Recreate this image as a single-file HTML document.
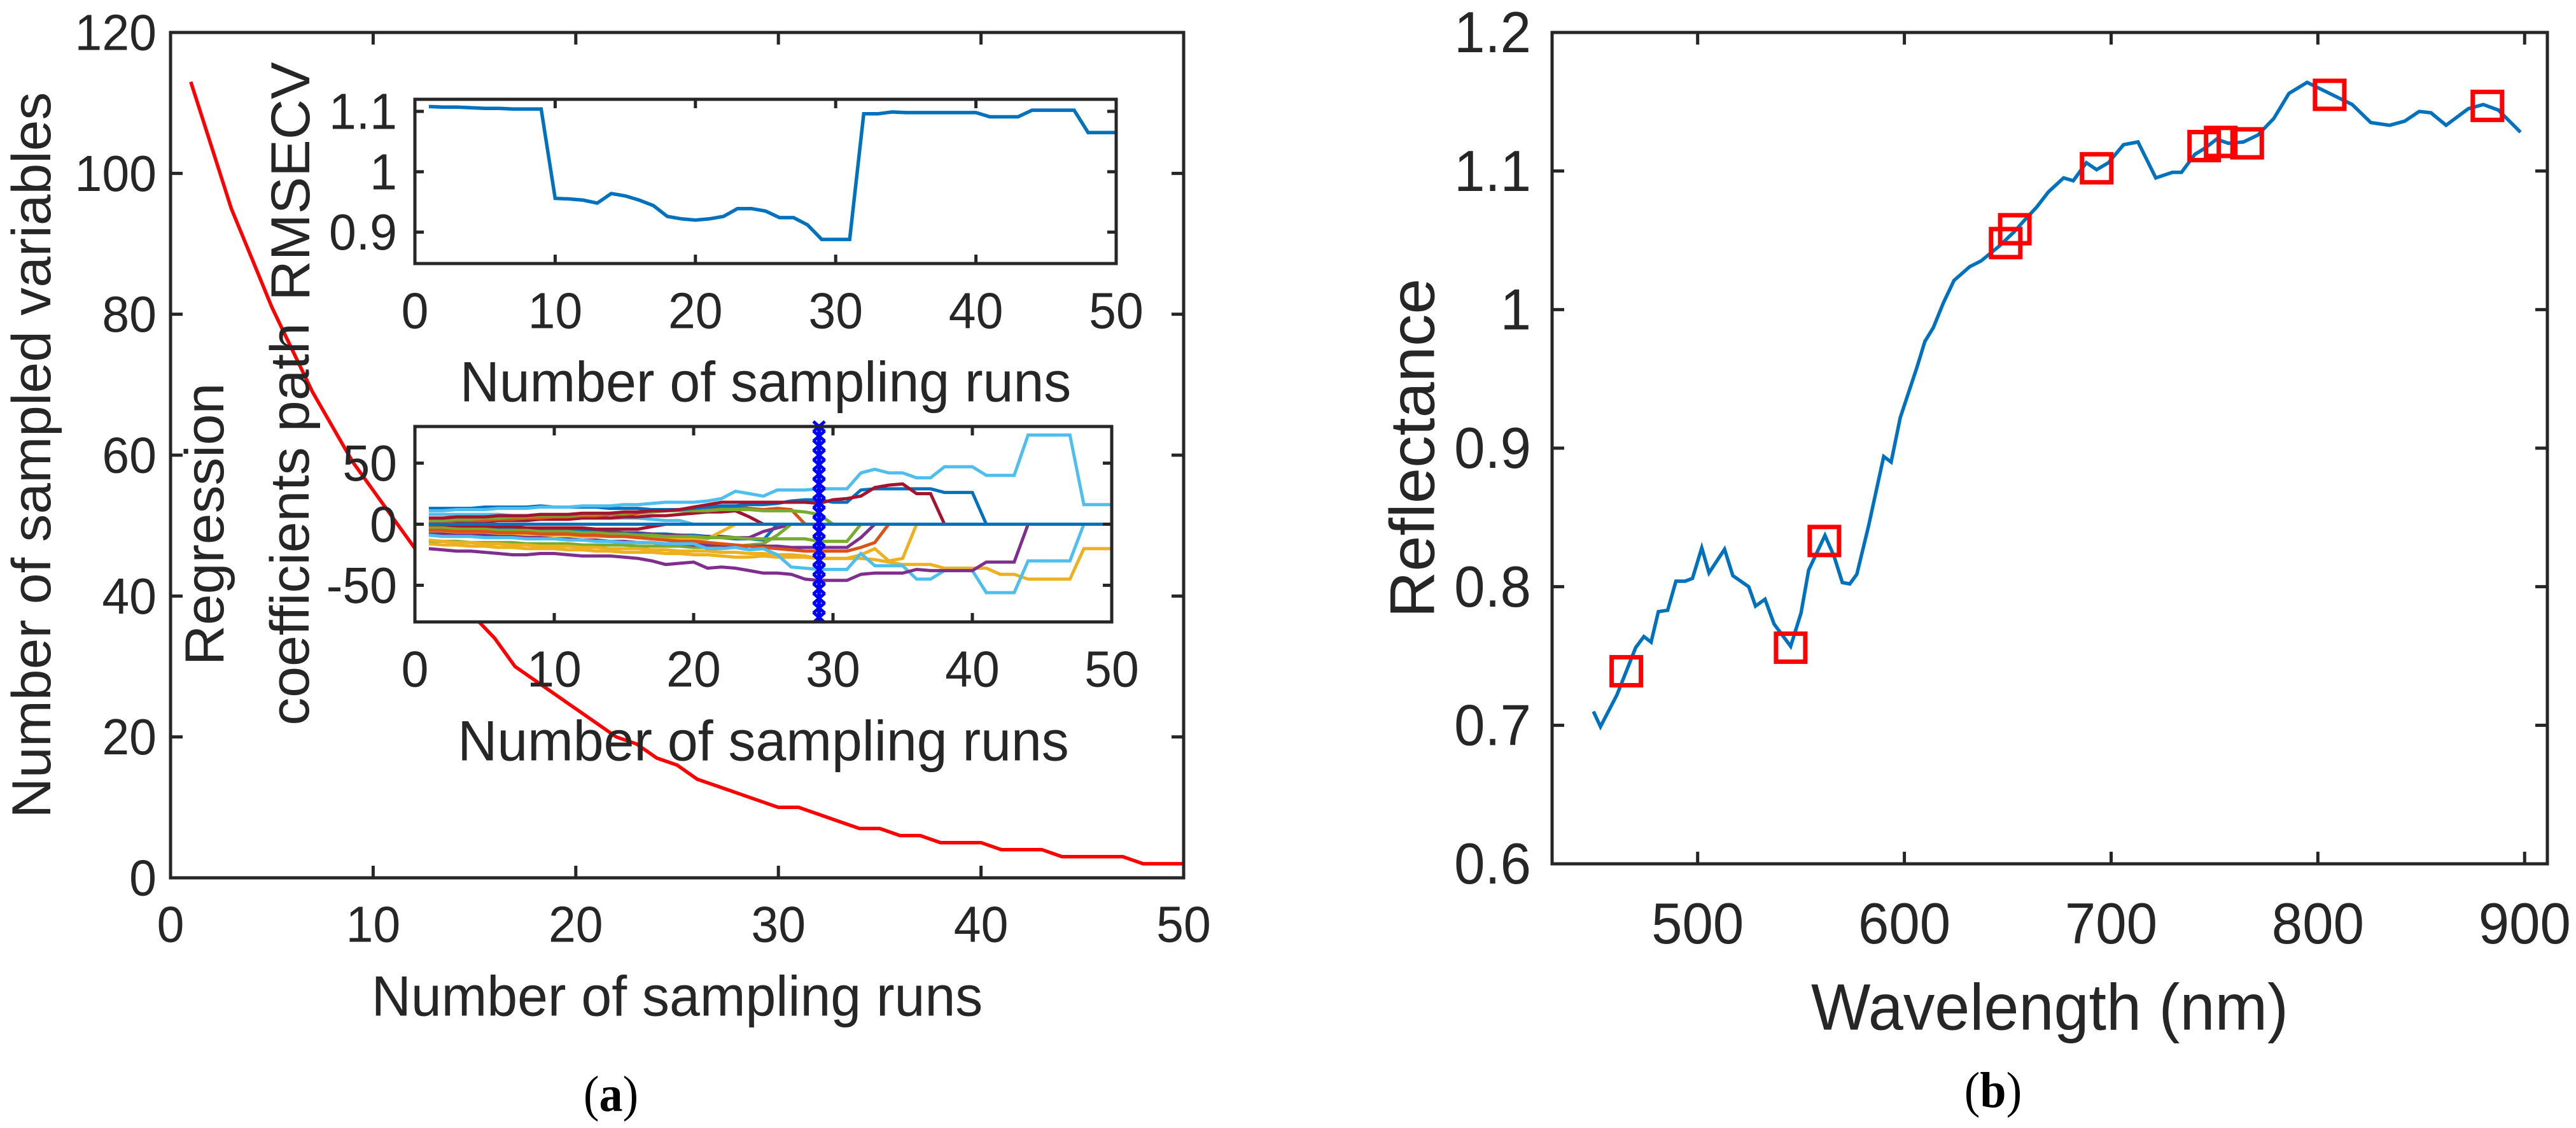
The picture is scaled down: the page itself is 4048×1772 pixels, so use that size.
<!DOCTYPE html>
<html><head><meta charset="utf-8">
<style>
html,body{margin:0;padding:0;background:#fff;}
svg{display:block;font-family:"Liberation Sans",Arial,sans-serif;}
</style></head>
<body>
<svg id="fig" width="4048" height="1772" viewBox="0 0 4048 1772" xmlns="http://www.w3.org/2000/svg"></svg>
<script>
// ---------- data ----------
const runs = [1,2,3,4,5,6,7,8,9,10,11,12,13,14,15,16,17,18,19,20,21,22,23,24,25,26,27,28,29,30,31,32,33,34,35,36,37,38,39,40,41,42,43,44,45,46,47,48,49,50];
const sampledVars = [113,104,95,88,81,75,69,64,59,55,51,47,43,40,37,34,30,28,26,24,22,20,19,17,16,14,13,12,11,10,10,9,8,7,7,6,6,5,5,5,4,4,4,3,3,3,3,2,2,2];
const rmsecv = [1.108,1.107,1.107,1.106,1.105,1.105,1.104,1.104,1.104,0.956,0.955,0.953,0.948,0.964,0.960,0.953,0.944,0.926,0.922,0.920,0.922,0.926,0.939,0.939,0.935,0.924,0.924,0.912,0.888,0.888,0.888,1.096,1.096,1.099,1.098,1.098,1.098,1.098,1.098,1.098,1.091,1.091,1.091,1.102,1.102,1.102,1.102,1.065,1.065,1.065];
const optimalRun = 29;
// coefficient paths (values after the listed runs are 0 = eliminated)
const pathA = [11,11,12,12,12,13,13,13,14,14,14,15,15,15,16,16,17,18,18,18,19,21,27,25,23,28,28,28,29,29,29,42,45,42,42,38,38,47,47,47,40,40,40,73,73,73,73,16,16,16];
const pathB = [5,5,6,6,6,7,7,7,8,8,8,9,9,9,10,10,11,11,12,14,16,18,18,18,18,18,18,18,17,20,21,23,30,32,33,25,25,0];
const pathC = [13,13,13,13,14,14,14,14,15,14,14,14,14,13,13,13,12,12,12,13,14,15,15,16,16,17,19,20,20,18,18,28,29,29,29,29,29,26,26,26,0];
const pathD = [-20,-21,-22,-22,-23,-24,-25,-25,-24,-24,-25,-26,-26,-26,-27,-28,-30,-33,-32,-31,-36,-35,-36,-38,-40,-40,-41,-45,-46,-46,-46,-41,-40,-40,-40,-37,-38,-38,-38,-38,-31,-31,-31,0];
const pathE = [-9,-10,-10,-10,-11,-11,-11,-12,-12,-12,-13,-13,-14,-14,-15,-15,-15,-16,-16,-16,-20,-20,-19,-21,-20,-25,-35,-36,-37,-37,-37,-24,-34,-34,-34,-45,-45,-38,-38,-38,-56,-56,-56,-30,-30,-30,-30,0];
const pathF = [-13,-14,-15,-15,-16,-16,-17,-17,-18,-18,-18,-19,-19,-20,-20,-20,-21,-21,-22,-22,-22,-23,-23,-24,-24,-25,-25,-26,-28,-28,-28,-25,-20,-30,-28,0];
const pathG = [-16,-17,-17,-18,-18,-19,-19,-20,-20,-20,-21,-21,-22,-22,-23,-23,-23,-24,-24,-25,-25,-26,-27,-27,-26,-27,-27,-27,-28,-28,-28,-28,-29,-31,-33,-33,-33,-36,-36,-36,-36,-41,-41,-45,-45,-45,-45,-20,-20,-20];
const pathH = [-5,-5,-6,-6,-6,-7,-7,-7,-8,-8,-8,-9,-9,-10,-10,-11,-12,-13,-14,-14,-15,-16,-17,-18,-19,-20,-21,-22,-22,-22,-22,-19,-15,0];
const pathI = [-8,-8,-9,-9,-9,-10,-10,-11,-11,-12,-12,-13,-13,-14,-14,-15,-15,-16,-16,-17,-17,-17,-18,-18,-18,-18,-19,-19,-19,-19,-19,-11,0];
const pathJ = [-3,-3,-4,-4,-4,-5,-5,-5,-6,-6,-6,-7,-7,-8,-8,-9,-9,-10,-10,-10,-11,-11,-11,-12,-12,-12,-12,-12,-14,-14,-14,0];
const pathK = [3,3,4,4,5,5,6,6,7,7,7,8,8,9,9,10,10,11,11,11,11,12,12,12,11,11,11,10,8,0];
const pathL = [8,8,8,8,8,8,7,7,7,7,6,6,6,5,5,5,4,3,3,0];
const pathM = [1,1,2,2,2,3,3,3,4,4,4,5,5,5,6,6,7,7,8,9,10,10,11,6,0];
const pathN = [2,2,3,3,3,4,4,5,5,6,6,7,7,8,8,9,10,11,12,13,13,14,14,13,12,13,12,0];
const pathO = [-2,-2,-2,-3,-3,-3,-4,-4,-4,-5,-5,-5,-6,-6,-7,-7,-8,-8,-9,-9,-10,-11,-12,-12,-13,0];
const pathP = [-4,-4,-4,-5,-5,-5,-5,-6,-6,-6,-6,-7,-7,-7,-8,-8,-8,-9,-9,-10,-10,-10,-11,-11,-6,-3,0];
const pathQ = [-14,-14,-14,-15,-15,-15,-15,-16,-16,-16,-16,-17,-17,-17,-17,-18,-18,-18,-18,-19,-19,-19,-18,-17,-16,-9,0];
const pathR = [-7,-7,-7,-8,-8,-8,-8,-9,-9,-9,-9,-10,-10,-10,-10,-11,-11,-12,-12,-12,-12,-6,0];
const pathS = [-1,-1,-1,-2,-2,-2,-2,-3,-3,-3,-3,-3,-4,-4,-4,-4,-2,0];
const pathZero = [0,0,0,0,0,0,0,0,0,0,0,0,0,0,0,0,0,0,0,0,0,0,0,0,0,0,0,0,0,0,0,0,0,0,0,0,0,0,0,0,0,0,0,0,0,0,0,0,0,0];
// spectrum
const wavelengths = [449.6,453,461,470,474,477.5,481,485.5,489.5,494,497.5,502,505.5,513,517,524.7,528,532.6,537,545,550,553.7,561.6,566,570,573.6,577,582.7,590,593.6,598,606,609.9,614,618.9,624,631.6,637,646,653,659,664,669.7,677,681.7,688,693,698.7,706,713,721.6,729.6,734,740.5,745.9,751,756.7,764,771,778.7,786,794.8,805.7,816.6,825.6,834.7,842,849,854.7,862,872.8,880,887.3,898];
const reflectance = [0.710,0.699,0.722,0.756,0.764,0.760,0.782,0.783,0.804,0.804,0.806,0.828,0.810,0.827,0.808,0.800,0.786,0.791,0.773,0.757,0.781,0.812,0.837,0.822,0.803,0.802,0.809,0.844,0.894,0.890,0.922,0.958,0.977,0.987,1.005,1.021,1.031,1.035,1.046,1.056,1.066,1.074,1.085,1.095,1.093,1.106,1.101,1.106,1.119,1.121,1.095,1.099,1.099,1.112,1.117,1.123,1.120,1.121,1.126,1.138,1.156,1.164,1.156,1.148,1.135,1.133,1.136,1.143,1.142,1.133,1.145,1.148,1.144,1.128];
const selectedWl = [465.5,545,561.3,649,653.4,693,745,753,765.8,805.7,882];
const selectedRefl = [0.739,0.756,0.833,1.048,1.058,1.102,1.118,1.121,1.120,1.155,1.147];
// ticks
const mainXTicks = [0,10,20,30,40,50];
const mainYTicks = [0,20,40,60,80,100,120];
const rmseYTicks = [0.9,1,1.1];
const rmseYTickLabels = ["0.9","1","1.1"];
const coefYTicks = [-50,0,50];
const bXTicks = [500,600,700,800,900];
const bYTicks = [0.6,0.7,0.8,0.9,1,1.1,1.2];
const bYTickLabels = ["0.6","0.7","0.8","0.9","1","1.1","1.2"];

// ---------- helpers ----------
const NS = "http://www.w3.org/2000/svg";
const svg = document.getElementById("fig");
const AX = "#262626";
const STRETCH = 1.04;
function mk(tag, attrs, parent){
  const e = document.createElementNS(NS, tag);
  for (const k in attrs) e.setAttribute(k, attrs[k]);
  (parent||svg).appendChild(e);
  return e;
}
function txt(s, x, y, size, anchor, parent, rot){
  const t = mk("text", {x:0, y:0, "font-size":size, "text-anchor":anchor||"middle", "dominant-baseline":"central", fill:AX}, parent);
  t.setAttribute("transform", "translate("+x+" "+y+")" + (rot ? " rotate(-90) scale(1.02 1)" : " scale(1 "+STRETCH+")"));
  t.textContent = s;
  return t;
}
function scale(d0,d1,p0,p1){ return v => p0 + (v-d0)/(d1-d0)*(p1-p0); }
function drawBox(L,T,R,B,g){
  const r = mk("rect", {x:L, y:T, width:R-L, height:B-T, fill:"none", stroke:AX, "stroke-width":5}, g);
  
  
}
function xTicks(ticks, sx, T, B, len, g, labY, size, labels){
  ticks.forEach((v,i)=>{
    const x = sx(v);
    mk("line",{x1:x,y1:B,x2:x,y2:B-len,stroke:AX,"stroke-width":5},g);
    mk("line",{x1:x,y1:T,x2:x,y2:T+len,stroke:AX,"stroke-width":5},g);
    const t = txt(labels?labels[i]:String(v), x, labY, size, "middle", g);
    
    
  });
}
function yTicks(ticks, sy, L, R, len, g, labX, size, labels){
  ticks.forEach((v,i)=>{
    const y = sy(v);
    mk("line",{x1:L,y1:y,x2:L+len,y2:y,stroke:AX,"stroke-width":5},g);
    mk("line",{x1:R,y1:y,x2:R-len,y2:y,stroke:AX,"stroke-width":5},g);
    const t = txt(labels?labels[i]:String(v), labX, y, size, "end", g);
    
    
  });
}
function polyline(xs, ys, sx, sy, color, w, g){
  const pts = xs.map((x,i)=>sx(x).toFixed(1)+","+sy(ys[i]).toFixed(1)).join(" ");
  return mk("polyline",{points:pts, fill:"none", stroke:color, "stroke-width":w, "stroke-linejoin":"miter"}, g);
}

// ---------- Panel (a) main ----------
const gA = mk("g", {});


const aL=268, aR=1860, aT=51, aB=1379;
const ax = scale(0,50,aL,aR), ay = scale(0,120,aB,aT);
const redLine = polyline(runs, sampledVars, ax, ay, "#ff0000", 5.5, gA);


drawBox(aL,aT,aR,aB,gA);
xTicks(mainXTicks, ax, aT, aB, 19, gA, 1452, 77);
yTicks(mainYTicks, ay, aL, aR, 19, gA, 246, 77);
const aXT = txt("Number of sampling runs", (aL+aR)/2, 1565, 86, "middle", gA);


const aYT = txt("Number of sampled variables", 50, (aT+aB)/2, 86, "middle", gA, true);



// ---------- Inset 1: RMSECV ----------
const gI1 = mk("g", {});


const i1L=652, i1R=1754, i1T=156, i1B=414;
mk("rect",{x:i1L,y:i1T,width:i1R-i1L,height:i1B-i1T,fill:"#fff"},gI1);
const i1x = scale(0,50,i1L,i1R), i1y = scale(0.848,1.12,i1B,i1T);
const rl = polyline(runs, rmsecv, i1x, i1y, "#0072BD", 5.5, gI1);


drawBox(i1L,i1T,i1R,i1B,gI1);
xTicks(mainXTicks, i1x, i1T, i1B, 14, gI1, 488, 77);
yTicks(rmseYTicks, i1y, i1L, i1R, 14, gI1, 624, 77, rmseYTickLabels);
const i1XT = txt("Number of sampling runs", (i1L+i1R)/2, 600, 86, "middle", gI1);


const i1YT = txt("RMSECV", 457, (i1T+i1B)/2, 86, "middle", gI1, true);



// ---------- Inset 2: coefficient paths ----------
const gI2 = mk("g", {});


const i2L=652, i2R=1747, i2T=670, i2B=977;
mk("rect",{x:i2L,y:i2T,width:i2R-i2L,height:i2B-i2T,fill:"#fff"},gI2);
const i2x = scale(0,50,i2L,i2R), i2y = scale(-80,80,i2B,i2T);
const paths = [pathL,pathM,pathN,pathO,pathP,pathQ,pathR,pathS,pathK,pathJ,pathI,pathH,pathF,pathG,pathE,pathD,pathC,pathB,pathA,pathZero];
const pathColors = ["#4DBEEE","#A2142F","#D95319","#0072BD","#7E2F8E","#77AC30","#EDB120","#A2142F","#77AC30","#77AC30","#7E2F8E","#D95319","#EDB120","#EDB120","#4DBEEE","#7E2F8E","#0072BD","#A2142F","#4DBEEE","#0072BD"];
paths.forEach((p,k)=>{
  const vals = runs.map((r,i)=> i<p.length ? p[i] : 0);
  const pl = polyline(runs, vals, i2x, i2y, pathColors[k], 5, gI2);
  
  
});
// optimal run marker line
const gM = mk("g",{},gI2);


const mx = i2x(optimalRun);
mk("line",{x1:mx,y1:i2T,x2:mx,y2:i2B,stroke:"#0000ff","stroke-width":6},gM);
for (let y=i2T; y<=i2B; y+=15){
  mk("path",{d:`M${mx-9},${y-8}L${mx+9},${y+8}M${mx-9},${y+8}L${mx+9},${y-8}`,stroke:"#0000ff","stroke-width":5,fill:"none"},gM);
}
drawBox(i2L,i2T,i2R,i2B,gI2);
xTicks(mainXTicks, i2x, i2T, i2B, 14, gI2, 1051, 77);
yTicks(coefYTicks, i2y, i2L, i2R, 14, gI2, 624, 77);
const i2XT = txt("Number of sampling runs", (i2L+i2R)/2, 1164, 86, "middle", gI2);


const i2YT1 = txt("Regression", 322, (i2T+i2B)/2, 86, "middle", gI2, true);


const i2YT2 = txt("coefficients path", 456, (i2T+i2B)/2, 86, "middle", gI2, true);



const capA = mk("text",{x:0,y:0,"font-size":74,"text-anchor":"middle","dominant-baseline":"central","font-family":"Liberation Serif, serif",fill:"#000",transform:"translate(960 1718) scale(1 1.08)"});


capA.innerHTML = '(<tspan font-weight="bold">a</tspan>)';

// ---------- Panel (b) ----------
const gB = mk("g", {});


const bL=2439, bR=4003, bT=51, bB=1357;
const bx = scale(429.6,911,bL,bR), by = scale(0.6,1.2,bB,bT);
const spec = polyline(wavelengths, reflectance, bx, by, "#0072BD", 5.5, gB);


selectedWl.forEach((w,i)=>{
  const s = mk("rect",{x:bx(w)-23,y:by(selectedRefl[i])-22,width:46,height:44,fill:"none",stroke:"#ff0000","stroke-width":7},gB);
  
  
});
drawBox(bL,bT,bR,bB,gB);
xTicks(bXTicks, bx, bT, bB, 19, gB, 1451, 87);
yTicks(bYTicks, by, bL, bR, 19, gB, 2406, 87, bYTickLabels);
const bXT = txt("Wavelength (nm)", (bL+bR)/2, 1583, 99, "middle", gB);


const bYT = txt("Reflectance", 2220, (bT+bB)/2, 99, "middle", gB, true);


const capB = mk("text",{x:0,y:0,"font-size":74,"text-anchor":"middle","dominant-baseline":"central","font-family":"Liberation Serif, serif",fill:"#000",transform:"translate(3132 1712) scale(1 1.08)"});


capB.innerHTML = '(<tspan font-weight="bold">b</tspan>)';
</script>
</body></html>
